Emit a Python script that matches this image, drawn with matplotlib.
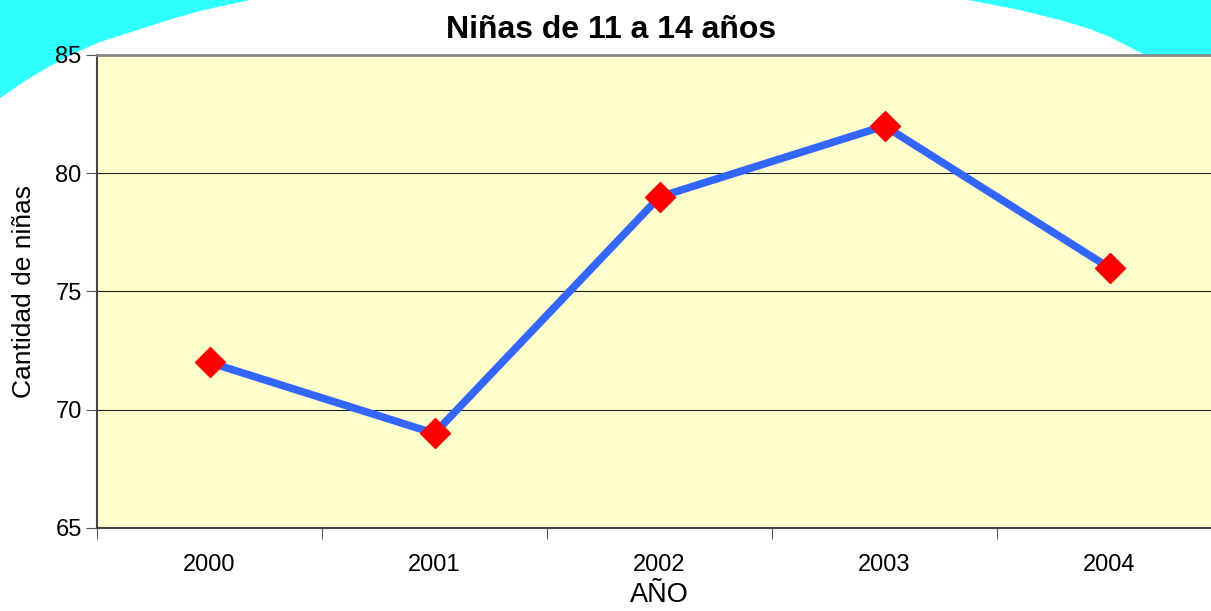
import numpy as np
import matplotlib
matplotlib.use("Agg")
import matplotlib.pyplot as plt
from matplotlib.patches import Polygon

years = ["2000", "2001", "2002", "2003", "2004"]
values = [72, 69, 79, 82, 76]
yticks = [65, 70, 75, 80, 85]

W, H = 1211, 611
fig = plt.figure(figsize=(W / 100, H / 100), dpi=100)
plt.rcParams["font.family"] = ["Liberation Sans", "DejaVu Sans"]


def px(pts):
    return [(x / W, 1 - y / H) for x, y in pts]


# cyan decorative shapes in the background (outline traced in pixels)
left_edge = [(0, 0), (250, 0), (222, 6), (200, 11), (175, 18), (150, 26),
             (125, 34), (100, 42), (77, 52), (50, 66), (25, 81), (0, 98)]
right_edge = [(968, 0), (1015, 9), (1060, 20), (1090, 29), (1110, 37),
              (1143, 54), (1180, 75), (1211, 100), (1211, 0)]
for edge in (left_edge, right_edge):
    fig.patches.append(Polygon(px(edge), closed=True, transform=fig.transFigure,
                               facecolor="#2EFFFF", edgecolor="none", zorder=-5))

# axes: left 97px, right runs past the figure edge (5 slots of 225px)
left, right, top, bottom = 97, 97 + 5 * 225, 55, 528
ax = fig.add_axes([left / W, 1 - bottom / H, (right - left) / W, (bottom - top) / H])
ax.set_facecolor("#FFFFCC")

x = np.arange(len(years))
ax.plot(x, values, color="#3366FF", linewidth=5.5, zorder=3)
ax.plot(x, values, linestyle="none", marker="D", markersize=15,
        color="#FF0000", zorder=4)

ax.set_xlim(-0.5, len(years) - 0.5)
ax.set_ylim(65, 85)
ax.set_yticks(yticks)
ax.set_xticks(x)
ax.set_xticklabels(years)
ax.set_xticks(np.arange(len(years)) - 0.5, minor=True)
ax.tick_params(axis="x", which="major", length=0, pad=19, labelsize=17)
ax.tick_params(axis="x", which="minor", length=8, direction="out", color="#333333")
ax.tick_params(axis="y", length=8, direction="out", color="#555555", labelsize=17, pad=3)
ax.grid(axis="y", color="#222222", linewidth=0.8)
ax.set_axisbelow(True)

for s in ["left", "bottom"]:
    ax.spines[s].set_color("#444444")
    ax.spines[s].set_linewidth(1.5)
ax.spines["top"].set_color("#888888")
ax.spines["top"].set_linewidth(2)
ax.spines["right"].set_visible(False)

ax.set_xlabel("AÑO", fontsize=19.5, labelpad=4)
ax.set_ylabel("Cantidad de niñas", fontsize=19, labelpad=14)
fig.text(611 / W, 1 - 30 / H, "Niñas de 11 a 14 años", ha="center", va="center",
         fontsize=23, fontweight="bold")

plt.savefig("out.png", dpi=100)
